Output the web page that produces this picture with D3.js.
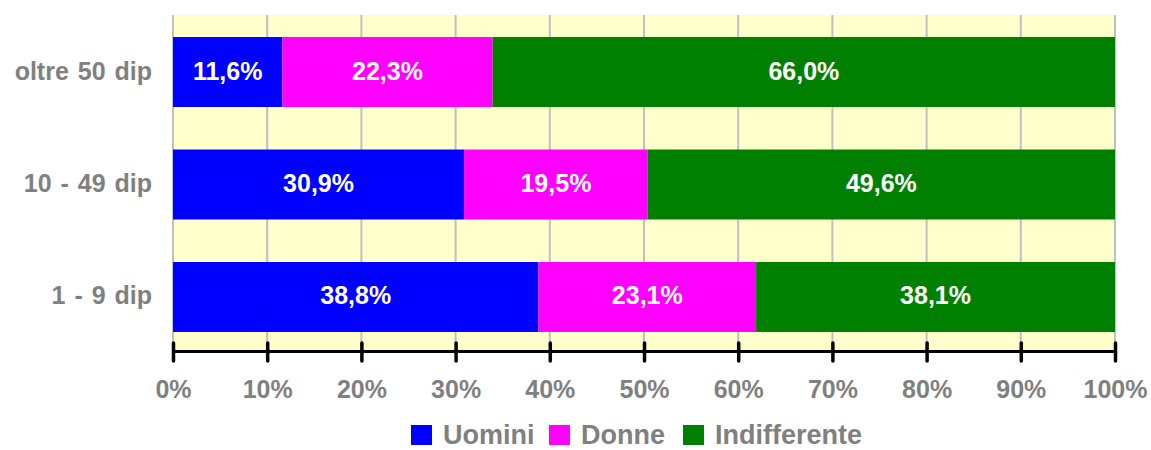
<!DOCTYPE html>
<html>
<head>
<meta charset="utf-8">
<script src="https://cdn.jsdelivr.net/npm/d3@7"></script>
<style>
  body { margin: 0; background: #fff; }
  svg { display: block; font-family: "Liberation Sans", Arial, sans-serif; font-weight: bold; }
</style>
</head>
<body>
<div id="chart"></div>
<script>
const categories = ['oltre 50 dip', '10 - 49 dip', '1 - 9 dip'];
const seriesNames = ['Uomini', 'Donne', 'Indifferente'];
const uomini = [11.6, 30.9, 38.8];
const donne = [22.3, 19.5, 23.1];
const indifferente = [66.0, 49.6, 38.1];
const tickValues = [0, 10, 20, 30, 40, 50, 60, 70, 80, 90, 100];
const colors = ['#0000ff', '#ff00ff', '#008000'];

const width = 1151, height = 450;
const margin = { top: 15, right: 36, bottom: 100, left: 173 };
const w = width - margin.left - margin.right;
const h = height - margin.top - margin.bottom;

const svg = d3.select('#chart').append('svg')
  .attr('width', width).attr('height', height);

const g = svg.append('g').attr('transform', 'translate(' + margin.left + ',' + margin.top + ')');

const rows = categories.map((c, i) => ({ cat: c, Uomini: uomini[i], Donne: donne[i], Indifferente: indifferente[i] }));

const x = d3.scaleLinear().domain([0, 100]).range([0, w]);
const y = d3.scaleBand().domain(categories).range([0, h])
  .paddingInner(0.378).paddingOuter(0.178).align(0.55);

g.append('rect').attr('width', w).attr('height', h).attr('fill', '#ffffcc');

// gridlines
g.selectAll('.grid').data(tickValues).enter().append('line')
  .attr('x1', d => x(d)).attr('x2', d => x(d))
  .attr('y1', 0).attr('y2', h)
  .attr('stroke', '#c0c0c0').attr('stroke-width', 2);

// stack, normalized to 100%
rows.forEach(r => {
  const tot = r.Uomini + r.Donne + r.Indifferente;
  let acc = 0;
  r.segs = seriesNames.map((s, j) => {
    const v = r[s] / tot * 100;
    const seg = { s: s, j: j, v: r[s], x0: acc, x1: acc + v };
    acc += v;
    return seg;
  });
});

const rowG = g.selectAll('.row').data(rows).enter().append('g')
  .attr('transform', d => 'translate(0,' + y(d.cat) + ')');

rowG.selectAll('rect').data(d => d.segs).enter().append('rect')
  .attr('x', d => x(d.x0)).attr('width', d => x(d.x1) - x(d.x0))
  .attr('height', y.bandwidth())
  .attr('fill', d => colors[d.j]);

rowG.selectAll('text').data(d => d.segs).enter().append('text')
  .attr('x', d => (x(d.x0) + x(d.x1)) / 2)
  .attr('y', y.bandwidth() / 2)
  .attr('dy', '0.3em')
  .attr('text-anchor', 'middle')
  .attr('fill', '#fff')
  .style('font-size', '25px')
  .text(d => d.v.toFixed(1).replace('.', ',') + '%');

// category labels
g.selectAll('.cat').data(categories).enter().append('text')
  .attr('x', -21)
  .attr('y', d => y(d) + y.bandwidth() / 2)
  .attr('dy', '0.3em')
  .attr('text-anchor', 'end')
  .attr('fill', '#808080')
  .style('font-size', '25px')
  .style('word-spacing', '2px')
  .text(d => d);

// x axis
const axisG = g.append('g').attr('transform', 'translate(0,' + (h + 1) + ')');
axisG.call(d3.axisBottom(x).tickValues(tickValues).tickSize(0).tickFormat(d => d + '%'));
axisG.select('.domain').attr('stroke', '#000').attr('stroke-width', 3);
axisG.selectAll('.tick line').remove();
axisG.selectAll('.tick').append('line')
  .attr('y1', -8).attr('y2', 10)
  .attr('stroke', '#000').attr('stroke-width', 3.5).attr('stroke-linecap', 'round');
axisG.selectAll('.tick text')
  .attr('y', 47).attr('dy', '0')
  .attr('fill', '#808080')
  .style('font-size', '25px').style('font-family', '"Liberation Sans", Arial, sans-serif').style('font-weight', 'bold');

// legend
const legendItems = [
  { name: seriesNames[0], x: 411 },
  { name: seriesNames[1], x: 549 },
  { name: seriesNames[2], x: 683 }
];
const lg = svg.append('g');
legendItems.forEach((d, i) => {
  lg.append('rect').attr('x', d.x).attr('y', 425).attr('width', 21).attr('height', 20).attr('fill', colors[i]);
  lg.append('text').attr('x', d.x + 32).attr('y', 444)
    .attr('fill', '#808080').style('font-size', '27px').text(d.name);
});
</script>
</body>
</html>
